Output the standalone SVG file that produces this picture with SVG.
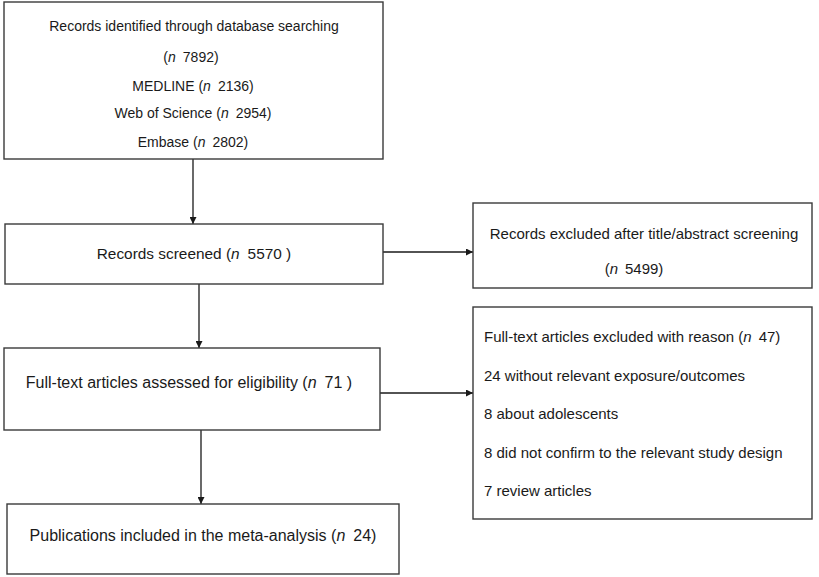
<svg xmlns="http://www.w3.org/2000/svg" width="819" height="577" viewBox="0 0 819 577">
<defs>
<style>
.box{fill:#fff;stroke:#3a3a3a;stroke-width:1.4}
.t{font-family:"Liberation Sans",Arial,sans-serif;font-size:14px;fill:#1a1a1a}
.c{text-anchor:middle}
.i{font-style:italic}
.s15{font-size:15px}
.s154{font-size:15.4px}
.s16{font-size:16px}
.ln{stroke:#1a1a1a;stroke-width:1.3;fill:none}
</style>
<marker id="ah" viewBox="0 0 10 10" refX="10" refY="5" markerWidth="7" markerHeight="7" markerUnits="userSpaceOnUse" orient="auto">
<path d="M0,0 L10,5 L0,10 z" fill="#1a1a1a"/>
</marker>
</defs>
<rect width="819" height="577" fill="#fff"/>
<g id="connectors">
<line class="ln" x1="193" y1="159" x2="193" y2="224" marker-end="url(#ah)"/>
<line class="ln" x1="383" y1="252" x2="473" y2="252" marker-end="url(#ah)"/>
<line class="ln" x1="199" y1="284" x2="199" y2="348" marker-end="url(#ah)"/>
<line class="ln" x1="380" y1="393" x2="473" y2="393" marker-end="url(#ah)"/>
<line class="ln" x1="201" y1="430" x2="201" y2="504" marker-end="url(#ah)"/>
</g>
<g id="identified">
<rect class="box" x="4" y="2" width="379" height="157"/>
<text class="t c" x="194" y="31">Records identified through database searching</text>
<text class="t c" x="191" y="62">(<tspan class="i">n</tspan><tspan dx="7">7892)</tspan></text>
<text class="t c" x="193" y="91">MEDLINE (<tspan class="i">n</tspan><tspan dx="7">2136)</tspan></text>
<text class="t c" x="193" y="118">Web of Science (<tspan class="i">n</tspan><tspan dx="7">2954)</tspan></text>
<text class="t c" x="193" y="147">Embase (<tspan class="i">n</tspan><tspan dx="7">2802)</tspan></text>
</g>
<g id="screened">
<rect class="box" x="5" y="224" width="378" height="60"/>
<text class="t c s154" x="194" y="259">Records screened (<tspan class="i">n</tspan><tspan dx="8">5570 )</tspan></text>
</g>
<g id="excluded-screening">
<rect class="box" x="473" y="203" width="339" height="85"/>
<text class="t c s15" x="644" y="239">Records excluded after title/abstract screening</text>
<text class="t c s15" x="634" y="274">(<tspan class="i">n</tspan><tspan dx="7">5499)</tspan></text>
</g>
<g id="assessed">
<rect class="box" x="4" y="348" width="376" height="82"/>
<text class="t c s16" x="189" y="388">Full-text articles assessed for eligibility (<tspan class="i">n</tspan><tspan dx="8">71 )</tspan></text>
</g>
<g id="excluded-fulltext">
<rect class="box" x="473" y="307" width="339" height="212"/>
<text class="t s15" x="484" y="342">Full-text articles excluded with reason (<tspan class="i">n</tspan><tspan dx="7">47)</tspan></text>
<text class="t s15" x="484" y="381">24 without relevant exposure/outcomes</text>
<text class="t s15" x="484" y="419">8 about adolescents</text>
<text class="t s15" x="484" y="458">8 did not confirm to the relevant study design</text>
<text class="t s15" x="484" y="496">7 review articles</text>
</g>
<g id="included">
<rect class="box" x="7" y="504" width="392" height="70"/>
<text class="t c s16" x="203" y="541">Publications included in the meta-analysis (<tspan class="i">n</tspan><tspan dx="8">24)</tspan></text>
</g>
</svg>
